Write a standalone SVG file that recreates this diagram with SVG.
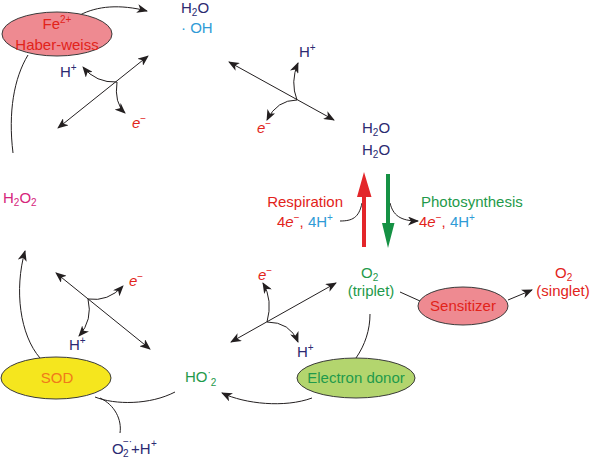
<svg xmlns="http://www.w3.org/2000/svg" width="592" height="458" viewBox="0 0 592 458">
<defs>
<marker id="ah" markerUnits="userSpaceOnUse" markerWidth="11" markerHeight="9" viewBox="0 0 11 9" refX="10" refY="4.5" orient="auto-start-reverse">
<path d="M0,0 L11,4.5 L0,9 L3,4.5 z" fill="#231f20"/>
</marker>
<style>
text{font-family:"Liberation Sans",Arial,sans-serif;font-size:15px}
.sub{font-size:10px}
.c{fill:none;stroke:#231f20;stroke-width:1}
.a{marker-end:url(#ah)}
.d{marker-start:url(#ah);marker-end:url(#ah)}
.navy{fill:#2b2a72}
.blue{fill:#2f9bd6}
.red{fill:#e2231a}
.green{fill:#1f9a4b}
.mag{fill:#d6257c}
.orange{fill:#f07a1a}
.ell{stroke:#3a3a3a;stroke-width:1}
</style>
</defs>

<g id="connectors">
<path class="c a" d="M80,15 C97,6 120,4 147,11"/>
<path class="c" d="M28,55 C14,78 8,112 13,153"/>
<path class="c a" d="M40,358 C20,335 14,290 25,251"/>
<path class="c" d="M175,392 C150,405 115,405 95,397"/>
<path class="c" d="M100,398 C115,405 122,420 120,433"/>
<path class="c a" d="M312,398 C285,408 245,404 222,393"/>
<path class="c" d="M370,314 C370,330 365,345 356,358"/>
<path class="c" d="M400,292 L420,301"/>
<path class="c a" d="M508,300 L532,290"/>
<!-- top-left crossing -->
<path class="c d" d="M148,56 L58,128"/>
<path class="c a" d="M117,82 Q96,83 83,67"/>
<path class="c a" d="M117,82 Q114,103 125,113"/>
<!-- top-right crossing -->
<path class="c d" d="M229,62 L334,120"/>
<path class="c a" d="M297,100 Q290,82 298,63"/>
<path class="c a" d="M297,100 Q277,100 267,120"/>
<!-- bottom-left crossing -->
<path class="c d" d="M56,273 L150,349"/>
<path class="c a" d="M88,299 Q108,302 123,286"/>
<path class="c a" d="M88,299 Q93,320 79,336"/>
<!-- bottom-right crossing -->
<path class="c d" d="M336,283 L231,342"/>
<path class="c a" d="M267,322 Q273,300 263,283"/>
<path class="c a" d="M267,322 Q290,322 298,342"/>
<!-- respiration / photosynthesis -->
<path class="c" d="M340,221 C352,221 359,218 362,203"/>
<path class="c a" d="M390,203 C393,215 400,221 418,221"/>
<path d="M362,247 V197 H357 L364,172 L371.5,197 H366 V247 Z" fill="#e3262a"/>
<path d="M386,174 V223 H382 L388,248 L394.5,223 H390 V174 Z" fill="#159144"/>
</g>

<g id="fe">
<ellipse class="ell" cx="57" cy="34" rx="55" ry="22" fill="#ee8a91"/>
<text x="57" y="29" text-anchor="middle" class="red">Fe<tspan class="sub" dy="-6">2+</tspan></text>
<text x="57" y="50" text-anchor="middle" class="red">Haber-weiss</text>
</g>

<g id="h2o-oh">
<text x="181" y="13" class="navy">H<tspan class="sub" dy="3">2</tspan><tspan dy="-3">O</tspan></text>
<text x="181" y="33" class="blue">· OH</text>
</g>

<g id="labels-top-left">
<text x="60" y="77" class="navy">H<tspan class="sub" dy="-6">+</tspan></text>
<text x="132" y="128" class="red"><tspan font-style="italic">e</tspan><tspan class="sub" dy="-6">−</tspan></text>
</g>

<g id="labels-top-right">
<text x="299" y="57" class="navy">H<tspan class="sub" dy="-6">+</tspan></text>
<text x="257" y="133" class="red"><tspan font-style="italic">e</tspan><tspan class="sub" dy="-6">−</tspan></text>
</g>

<g id="h2o-pair">
<text x="362" y="133" class="navy">H<tspan class="sub" dy="3">2</tspan><tspan dy="-3">O</tspan></text>
<text x="362" y="155" class="navy">H<tspan class="sub" dy="3">2</tspan><tspan dy="-3">O</tspan></text>
</g>

<g id="respiration">
<text x="343" y="207" text-anchor="end" class="red">Respiration</text>
<text x="277" y="227"><tspan class="red">4<tspan font-style="italic">e</tspan><tspan class="sub" dy="-6">−</tspan><tspan dy="6">, </tspan></tspan><tspan class="blue">4H<tspan class="sub" dy="-6">+</tspan></tspan></text>
</g>

<g id="photosynthesis">
<text x="421" y="207" class="green">Photosynthesis</text>
<text x="419" y="227"><tspan class="red">4<tspan font-style="italic">e</tspan><tspan class="sub" dy="-6">−</tspan><tspan dy="6">, </tspan></tspan><tspan class="blue">4H<tspan class="sub" dy="-6">+</tspan></tspan></text>
</g>

<g id="h2o2">
<text x="3" y="203" class="mag">H<tspan class="sub" dy="3">2</tspan><tspan dy="-3">O</tspan><tspan class="sub" dy="3">2</tspan></text>
</g>

<g id="labels-bottom-left">
<text x="129" y="286" class="red"><tspan font-style="italic">e</tspan><tspan class="sub" dy="-6">−</tspan></text>
<text x="69" y="350" class="navy">H<tspan class="sub" dy="-6">+</tspan></text>
</g>

<g id="labels-bottom-right">
<text x="258" y="280" class="red"><tspan font-style="italic">e</tspan><tspan class="sub" dy="-6">−</tspan></text>
<text x="297" y="357" class="navy">H<tspan class="sub" dy="-6">+</tspan></text>
</g>

<g id="sod">
<ellipse class="ell" cx="56" cy="378" rx="55" ry="21" fill="#f5e61e"/>
<text x="57" y="383" text-anchor="middle" class="orange">SOD</text>
</g>

<g id="superoxide">
<text class="navy"><tspan x="112" y="454">O</tspan><tspan class="sub" x="123" y="457">2</tspan><tspan class="sub" x="123" y="445">−·</tspan><tspan x="131" y="454">+H</tspan><tspan class="sub" x="151" y="447">+</tspan></text>
</g>

<g id="ho2">
<text class="green" x="185" y="382">HO<tspan class="sub" dy="-6">·</tspan><tspan class="sub" dy="10">2</tspan></text>
</g>

<g id="electron-donor">
<ellipse class="ell" cx="356" cy="378" rx="59" ry="20" fill="#b3d56e"/>
<text x="356" y="383" text-anchor="middle" class="green">Electron donor</text>
</g>

<g id="o2-triplet">
<text x="361" y="278" class="green">O<tspan class="sub" dy="3">2</tspan></text>
<text x="371" y="296" text-anchor="middle" class="green">(triplet)</text>
</g>

<g id="sensitizer">
<ellipse class="ell" cx="463" cy="306" rx="45" ry="19" fill="#ee8a91"/>
<text x="463" y="311" text-anchor="middle" class="red">Sensitizer</text>
</g>

<g id="o2-singlet">
<text x="555" y="278" class="red">O<tspan class="sub" dy="3">2</tspan></text>
<text x="563" y="296" text-anchor="middle" class="red">(singlet)</text>
</g>
</svg>
